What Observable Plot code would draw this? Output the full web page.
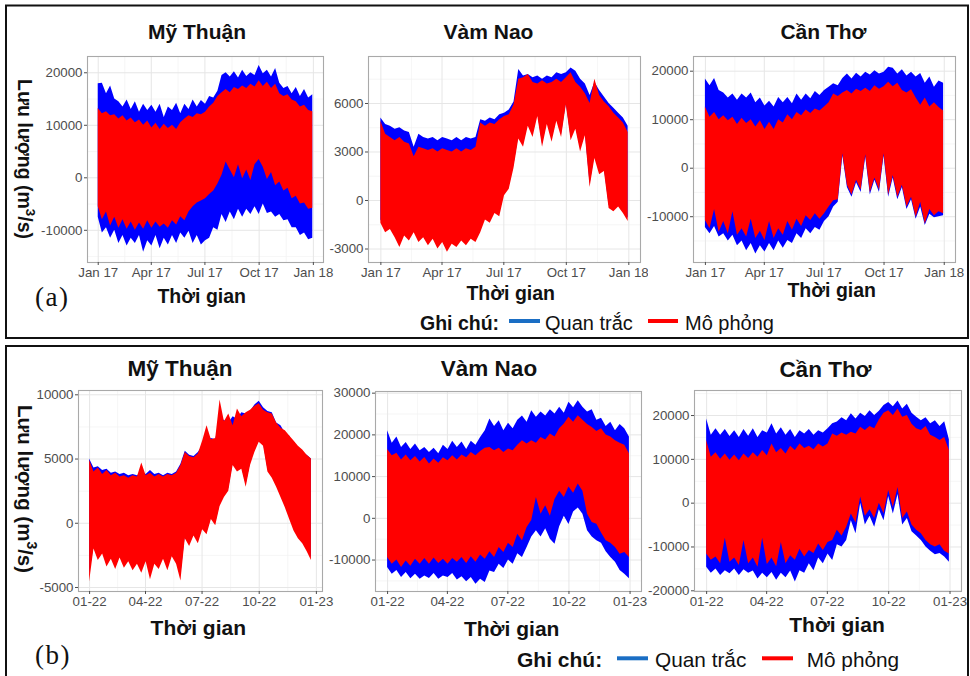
<!DOCTYPE html>
<html>
<head>
<meta charset="utf-8">
<script src="https://cdn.jsdelivr.net/npm/d3@7"></script>
<script src="https://cdn.jsdelivr.net/npm/@observablehq/plot@0.6"></script>
<style>
  body { margin: 0; background: #fff; }
  #page { position: relative; width: 970px; height: 676px; overflow: hidden; background: #fff;
          font-family: "Liberation Sans", Arial, sans-serif; }
  #page svg { position: absolute; }
</style>
</head>
<body>
<div id="page"></div>
<script>
// Weekly sampling dates of the discharge envelopes (m3/s)
const dates2017 = d3.utcDay.range(new Date(Date.UTC(2017, 0, 1)), new Date(Date.UTC(2018, 0, 1)), 7);
const dates2022 = d3.utcDay.range(new Date(Date.UTC(2022, 0, 1)), new Date(Date.UTC(2023, 0, 1)), 7);
const dates2022MT = dates2022.slice(0, 52);

// ---- (a) 2017 : Mỹ Thuận ----
const mt17ObsHi = [17900,18000,16000,17500,15000,14500,13500,14800,13000,14500,12500,14000,12800,13800,12500,14000,11500,13500,12800,14200,12200,14000,13000,14800,13500,14700,14000,15500,15200,16500,19500,20000,19200,20200,19000,20500,19300,20000,19500,21400,19800,20500,19200,20800,18000,17000,17400,16000,17200,15500,16800,15200,15800];
const mt17ObsLo = [-7500,-10500,-9500,-11500,-10000,-12500,-11000,-13000,-11500,-12500,-11000,-14200,-12000,-13000,-11000,-13500,-11500,-12800,-11000,-12500,-10500,-11500,-10200,-12500,-11000,-12800,-12000,-11500,-9500,-10000,-7000,-8500,-6500,-8000,-6000,-7500,-6000,-7000,-5500,-7000,-5000,-6800,-6500,-7500,-7000,-8200,-8000,-9500,-9500,-11000,-10500,-11800,-11500];
const mt17SimHi = [13200,12200,12600,11800,12000,11200,11800,10800,11400,10500,11000,10000,10800,9500,10400,9200,10200,9400,10000,9200,10500,11200,11800,11500,12200,12000,12500,13500,14200,15500,16200,16800,16200,17200,16800,17500,17000,17800,17300,18500,17400,18200,17000,17800,16000,15500,15800,14800,14500,13500,13800,12800,12600];
const mt17SimLo = [-5500,-8000,-6500,-9200,-7500,-9600,-8000,-9800,-8400,-10000,-8600,-9800,-8200,-9600,-8400,-9400,-8800,-9600,-8200,-9000,-7400,-8200,-6500,-5500,-4800,-4400,-4000,-3200,-2500,-1200,500,3000,1500,0,2500,-200,1500,-500,2500,3500,2000,-300,1000,-1500,-800,-2500,-2000,-4000,-3500,-5000,-4800,-6000,-5800];

// ---- (a) 2017 : Vàm Nao ----
const vn17ObsHi = [5100,4700,4600,4400,4500,4300,4200,3300,4100,3900,3800,3900,3700,3900,3800,3700,3900,3700,3900,3800,3900,5000,4900,5100,5000,5300,5400,5600,6100,8100,7700,7800,7600,7700,7500,7700,7600,7900,7800,7900,8200,8000,7500,7200,6500,7300,6800,6400,6000,5700,5400,5100,4600];
const vn17ObsLo = [-1200,-1800,-1600,-2100,-2600,-2000,-2300,-1800,-2400,-2100,-2600,-2200,-2700,-2400,-2900,-2500,-2700,-2300,-2600,-2200,-2400,-1800,-1000,-1200,-600,-800,500,900,2200,4000,3500,4800,4100,5400,3500,4900,3800,5100,4100,6000,3900,4600,3200,4200,1000,2800,1800,2000,-300,-500,-200,-600,-1100];
const vn17SimHi = [4900,4100,3900,3700,3900,3600,3500,2700,3300,3200,3100,3200,3000,3200,3100,3000,3200,3000,3200,3100,3300,4800,4600,4800,4700,5000,5200,5300,5900,7500,7600,7800,7300,7200,7400,7200,7300,7500,7300,7600,7900,7300,7000,6600,6000,7500,6500,6100,5800,5400,5100,4800,4200];
const vn17SimLo = [-1400,-2000,-1800,-2300,-2900,-2200,-2500,-2000,-2600,-2300,-2800,-2400,-3000,-2600,-3200,-2700,-2900,-2500,-2800,-2400,-2600,-2000,-1200,-1400,-800,-1000,300,700,2000,3800,3300,4600,3900,5200,3300,4700,3600,4900,3900,5900,3700,4400,3000,4000,800,2600,1600,1800,-500,-700,-400,-800,-1300];

// ---- (a) 2017 : Cần Thơ ----
const ct17ObsHi = [18400,17000,18500,16000,15500,14500,15300,14000,15300,14500,15500,13500,14500,12800,13800,12600,14600,13500,14600,13300,15300,14000,15300,14300,15800,15000,16000,16700,17400,17000,18500,19400,18400,19600,18800,19800,19200,20100,19400,19800,20800,20600,19400,20300,19000,19800,18800,19500,17500,18800,16700,18000,17500];
const ct17ObsLo = [-12200,-13500,-12000,-14200,-13500,-15000,-13800,-16000,-15000,-17000,-15500,-17700,-16000,-17300,-15500,-17000,-15000,-16500,-14900,-15500,-13500,-14500,-12500,-13500,-12200,-12800,-11000,-10000,-8000,-7000,2500,-4000,-6000,-3000,-5000,2300,-5500,-2500,-5000,2500,-6000,-2000,-6500,-4000,-8500,-6500,-10500,-8000,-11800,-9500,-10200,-10000,-9800];
const ct17SimHi = [12600,10500,11500,10000,10800,9800,10500,9000,10300,9200,10000,8500,9800,8000,9500,8000,10000,9300,11000,10000,11500,10800,12000,11300,12200,11800,12600,13500,15300,14800,15500,16000,15300,16300,15800,16500,15800,17000,16300,16800,17700,16800,17500,16000,15500,16200,14500,13000,14500,12600,13500,12500,11800];
const ct17SimLo = [-10800,-12500,-8500,-13200,-11000,-13500,-9000,-13800,-12500,-14200,-10500,-14500,-13000,-14900,-11000,-14500,-12500,-13800,-11000,-12800,-10500,-12000,-9800,-10800,-9400,-10500,-9400,-8000,-6700,-6500,3000,-3500,-5500,-2500,-4500,2800,-5000,-2000,-4500,3000,-5500,-1500,-6000,-3500,-8000,-6000,-10100,-7000,-11500,-8500,-9800,-9000,-9400];

// ---- (b) 2022 : Mỹ Thuận ----
const mt22ObsHi = [5000,4300,4400,4100,4200,3900,4000,3800,3900,3700,3800,3700,3900,3800,4100,3800,3900,3700,3900,3800,4000,4600,5600,5300,5200,5500,6000,6400,6600,6500,8200,8000,7800,8300,8100,8600,8500,8700,9200,9500,9000,8700,8600,7800,7600,7000,6800,6000,5700,5500,5300,5000];
const mt22ObsLo = [-4000,-1800,-2700,-2200,-3200,-2600,-3400,-2500,-3300,-2800,-3500,-3000,-3700,-2800,-4000,-3000,-3400,-2600,-3500,-2400,-3000,-4000,-1000,-1600,-800,-1400,-300,-700,500,0,1500,2200,2700,4700,4200,4400,3000,4700,5700,6500,6200,4200,3700,3000,2200,1400,500,-400,-1000,-1400,-2000,-2700];
const mt22SimHi = [4900,4000,4300,3800,4100,3700,3900,3600,3700,3500,3700,3600,4700,3700,3900,3600,3800,3600,3800,3700,3900,4500,5500,5200,5100,5400,6400,7600,6500,6600,9600,7900,8500,7600,8900,8300,8600,8800,9100,9300,8800,8600,8500,7800,7400,7200,6800,6400,6000,5700,5300,5000];
const mt22SimLo = [-4600,-2000,-2900,-2400,-3400,-2800,-3600,-2700,-3500,-3000,-3700,-3200,-3900,-3000,-4400,-3200,-3600,-2800,-3700,-2600,-3200,-4500,-1200,-1800,-1000,-1600,-500,-900,300,-200,1300,2000,2500,4500,4000,4200,2800,4500,5500,6300,6000,4000,3500,2800,2000,1200,300,-600,-1200,-1600,-2200,-2900];

// ---- (b) 2022 : Vàm Nao ----
const vn22ObsHi = [21000,18000,19500,17000,18200,16500,17800,16200,17000,15800,16800,15500,17500,16500,18500,17000,18300,16500,18500,17500,19400,21000,23800,22000,23400,21000,22800,21500,23500,24500,23000,25800,24200,25500,24500,26000,25000,26600,25200,27800,26500,28200,26600,25500,26000,23500,24000,22000,23000,21000,22500,21500,19500];
const vn22ObsLo = [-11800,-13400,-12500,-14200,-13000,-14500,-13400,-14600,-13800,-14400,-13200,-14600,-13800,-14200,-13200,-14800,-14000,-15200,-14200,-15800,-14600,-15400,-12600,-13000,-11000,-12000,-10000,-11000,-8500,-9400,-7000,-4500,-3000,-4500,-2500,-5000,-6200,-2000,500,-1500,1500,2500,1000,-3000,-4500,-5400,-6000,-8000,-9400,-10500,-12500,-13400,-14500];
const vn22SimHi = [16500,15000,15600,14000,15200,13800,14800,13500,14600,13000,14200,13200,14500,13800,15000,14000,15200,14500,15800,15000,16000,16800,17000,16200,16800,15800,16600,16200,17500,18600,17800,18600,18000,19400,18800,20200,19500,21500,22600,24200,23000,24600,23500,22500,21800,20800,21500,20000,19500,18600,18000,17500,15500];
const vn22SimLo = [-9400,-11000,-10000,-11800,-10200,-11500,-9800,-11000,-9600,-11000,-9500,-10800,-9800,-11000,-9600,-10500,-9400,-10800,-9200,-10500,-8800,-9800,-8000,-9400,-7000,-8200,-6000,-7000,-3800,-5400,-2200,-500,5000,1000,3000,500,4500,6500,5000,7500,6000,8200,6500,1000,-1000,-1400,-3500,-5400,-6000,-7000,-8600,-8200,-9400];

// ---- (b) 2022 : Cần Thơ ----
const ct22ObsHi = [19200,15500,17000,15500,16800,15200,16500,15000,16800,15300,17000,15000,16500,16000,18100,15800,17200,15500,16800,15000,16500,15800,16800,15500,16500,16000,17000,18100,18500,19500,18800,20400,19200,20500,19800,21100,20000,21000,22300,23000,22000,23300,21500,22600,20500,19600,18800,19500,18100,18800,17500,18600,14500];
const ct22ObsLo = [-14600,-16000,-15000,-16500,-15400,-16100,-15000,-16500,-15200,-16000,-15500,-17300,-16000,-17000,-15800,-17600,-16000,-17000,-15500,-18000,-15400,-16000,-13800,-15400,-12500,-13800,-11600,-13100,-9500,-10000,-8500,-4000,-7000,0,-5000,-3000,-5500,-1500,-4000,1500,-2500,2000,-5000,-3500,-6500,-7500,-8500,-10000,-11000,-11800,-11500,-12300,-13500];
const ct22SimHi = [14300,10500,11500,10000,11200,9800,11000,9700,11200,10200,11500,10500,12000,10800,13500,11500,12500,11200,13000,12000,13500,12500,13000,12200,13500,12800,13500,15800,15300,16000,15500,16200,15800,17300,16600,17500,17000,19000,20500,21100,20000,21500,19600,20000,18000,17000,16600,17500,15500,15000,14300,15000,12000];
const ct22SimLo = [-11600,-13000,-12300,-13800,-8000,-13500,-12500,-14200,-8500,-13800,-12500,-14600,-8000,-14000,-12500,-14500,-9000,-13800,-12000,-13000,-10500,-12300,-10800,-11500,-9300,-10800,-9000,-8500,-6200,-7500,-5500,-2500,-4500,1400,-3000,-1500,-3500,0,-2400,2900,-1000,3600,-3500,-2000,-5000,-6200,-7000,-8500,-9500,-10000,-9500,-11000,-11600];

// Station names, axis text, legend text
const stations = ["Mỹ Thuận", "Vàm Nao", "Cần Thơ"];
const xTitle = "Thời gian";
const legendTitle = "Ghi chú:";
const seriesNames = ["Quan trắc", "Mô phỏng"];
const OBS = "#0000ff", SIM = "#ff0000", OBS_KEY = "#1a6ec4";

const panels = [
  {dates: dates2017, obsHi: mt17ObsHi, obsLo: mt17ObsLo, simHi: mt17SimHi, simLo: mt17SimLo,
   frame: [87, 56, 323, 262], ml: 52, mr: 12, yDomain: [-16130, 23100],
   yTicks: [-10000, 0, 10000, 20000], yMinor: [-15000, -5000, 5000, 15000], fmt: "%b %y"},
  {dates: dates2017, obsHi: vn17ObsHi, obsLo: vn17ObsLo, simHi: vn17SimHi, simLo: vn17SimLo,
   frame: [368, 56, 640, 262], ml: 44, mr: 8, yDomain: [-3835, 8907],
   yTicks: [-3000, 0, 3000, 6000], yMinor: [-1500, 1500, 4500, 7500], fmt: "%b %y"},
  {dates: dates2017, obsHi: ct17ObsHi, obsLo: ct17ObsLo, simHi: ct17SimHi, simLo: ct17SimLo,
   frame: [693, 56, 955, 262], ml: 50, mr: 10, yDomain: [-19440, 23030],
   yTicks: [-10000, 0, 10000, 20000], yMinor: [-15000, -5000, 5000, 15000], fmt: "%b %y"},
  {dates: dates2022MT, obsHi: mt22ObsHi, obsLo: mt22ObsLo, simHi: mt22SimHi, simLo: mt22SimLo,
   frame: [78, 390, 322, 591], ml: 46, mr: 14, yDomain: [-5312, 10335],
   yTicks: [-5000, 0, 5000, 10000], yMinor: [-2500, 2500, 7500], fmt: "%m-%y"},
  {dates: dates2022, obsHi: vn22ObsHi, obsLo: vn22ObsLo, simHi: vn22SimHi, simLo: vn22SimLo,
   frame: [375, 391, 641, 591], ml: 50, mr: 8, yDomain: [-17540, 30400],
   yTicks: [-10000, 0, 10000, 20000, 30000], yMinor: [-15000, -5000, 5000, 15000, 25000], fmt: "%m-%y"},
  {dates: dates2022, obsHi: ct22ObsHi, obsLo: ct22ObsLo, simHi: ct22SimHi, simLo: ct22SimLo,
   frame: [694, 390, 961, 591], ml: 50, mr: 8, yDomain: [-20160, 25714],
   yTicks: [-20000, -10000, 0, 10000, 20000], yMinor: [-15000, -5000, 5000, 15000, 25000], fmt: "%m-%y"}
];

const page = document.getElementById("page");
const FONT = "'Liberation Sans', Arial, sans-serif";

function drawPanel(p) {
  const [x0, y0, x1, y1] = p.frame;
  const mt = 12, mb = 26;
  const width = (x1 - x0) + p.ml + p.mr;
  const height = (y1 - y0) + mt + mb;
  const rows = p.dates.map((d, i) => ({date: d, obsLo: p.obsLo[i], obsHi: p.obsHi[i], simLo: p.simLo[i], simHi: p.simHi[i]}));
  const [d0, d1] = d3.extent(p.dates);
  const pad = (d1 - d0) * 0.05;
  const xDomain = [new Date(+d0 - pad), new Date(+d1 + pad)];
  const xMajor = d3.utcMonth.every(3).range(xDomain[0], xDomain[1]);
  const xMinor = d3.pairs(xMajor).map(([a, b]) => new Date((+a + +b) / 2));

  const svg = Plot.plot({
    width, height,
    marginLeft: p.ml, marginRight: p.mr, marginTop: mt, marginBottom: mb,
    style: {background: "transparent", fontFamily: FONT, fontSize: "13.3px", color: "#4d4d4d"},
    x: {type: "utc", domain: xDomain},
    y: {domain: p.yDomain},
    marks: [
      Plot.frame({fill: "white"}),
      Plot.ruleX(xMinor, {stroke: "#f2f2f2", strokeWidth: 0.7}),
      Plot.ruleY(p.yMinor, {stroke: "#f2f2f2", strokeWidth: 0.7}),
      Plot.ruleX(xMajor, {stroke: "#e6e6e6", strokeWidth: 1}),
      Plot.ruleY(p.yTicks, {stroke: "#e6e6e6", strokeWidth: 1}),
      Plot.areaY(rows, {x: "date", y1: "obsLo", y2: "obsHi", fill: OBS}),
      Plot.areaY(rows, {x: "date", y1: "simLo", y2: "simHi", fill: SIM}),
      Plot.frame({stroke: "#a9a9a9", strokeWidth: 1.1}),
      Plot.axisX({ticks: xMajor, tickFormat: d3.utcFormat(p.fmt), tickSize: 3, tickPadding: 2,
                  stroke: "#4d4d4d", fill: "#4d4d4d", fontSize: 13.3, label: null}),
      Plot.axisY({ticks: p.yTicks, tickFormat: d => String(d), tickSize: 3, tickPadding: 2,
                  stroke: "#4d4d4d", fill: "#4d4d4d", fontSize: 13.3, label: null})
    ]
  });
  svg.style.position = "absolute";
  svg.style.left = (x0 - p.ml) + "px";
  svg.style.top = (y0 - mt) + "px";
  page.appendChild(svg);
}
panels.forEach(drawPanel);

// Text, borders and legends drawn on top
const ov = d3.select(page).append("svg")
  .attr("width", 970).attr("height", 676)
  .style("left", "0px").style("top", "0px")
  .style("pointer-events", "none")
  .attr("font-family", FONT);

ov.append("rect").attr("x", 6).attr("y", 5.5).attr("width", 962).attr("height", 332.5)
  .attr("fill", "none").attr("stroke", "#111").attr("stroke-width", 2);
ov.append("rect").attr("x", 6).attr("y", 346).attr("width", 962).attr("height", 340)
  .attr("fill", "none").attr("stroke", "#111").attr("stroke-width", 2);

function label(txt, x, y, size, opts = {}) {
  return ov.append("text").attr("x", x).attr("y", y)
    .attr("font-size", size).attr("font-weight", opts.weight || "bold")
    .attr("text-anchor", opts.anchor || "middle")
    .attr("fill", opts.fill || "#111")
    .attr("font-family", opts.family || FONT)
    .text(txt);
}

// Station titles
[[197, 38.7], [488.5, 38.7], [823.5, 39.3]].forEach(([x, y], i) => label(stations[i], x, y, 21));
[[180, 375.5], [489, 375.5], [825.5, 376.5]].forEach(([x, y], i) => label(stations[i], x, y, 22.5));

// Time axis titles
[[201.7, 303], [510.7, 299.5], [831.7, 296.5]].forEach(([x, y]) => label(xTitle, x, y, 19.5));
[[198.3, 635], [511.7, 636], [837, 632]].forEach(([x, y]) => label(xTitle, x, y, 21));

// Discharge axis titles (rotated, reading downwards)
function yTitle(cx, cy, size) {
  const t = ov.append("text")
    .attr("transform", `translate(${cx},${cy}) rotate(90)`)
    .attr("text-anchor", "middle").attr("font-weight", "bold")
    .attr("font-size", size).attr("fill", "#111");
  t.append("tspan").text("Lưu lượng (m");
  t.append("tspan").attr("dy", -0.42 * size).attr("font-size", size * 0.68).text("3");
  t.append("tspan").attr("dy", 0.42 * size).text("/s)");
}
yTitle(18, 159, 19.5);
yTitle(18, 489, 20.5);

// Panel group letters
label("(a)", 35, 305.5, 27, {weight: "normal", anchor: "start", family: "'Liberation Serif', 'Times New Roman', serif"})
  .attr("letter-spacing", 1.5);
label("(b)", 35, 663.8, 27, {weight: "normal", anchor: "start", family: "'Liberation Serif', 'Times New Roman', serif"})
  .attr("letter-spacing", 1.5);

// Legends
function legend(y, base, sizeB, sizeR, xs) {
  label(legendTitle, xs[0], base, sizeB, {anchor: "start"});
  ov.append("line").attr("x1", xs[1]).attr("x2", xs[2]).attr("y1", y).attr("y2", y)
    .attr("stroke", OBS_KEY).attr("stroke-width", 4);
  label(seriesNames[0], xs[3], base, sizeR, {anchor: "start", weight: "normal"});
  ov.append("line").attr("x1", xs[4]).attr("x2", xs[5]).attr("y1", y).attr("y2", y)
    .attr("stroke", SIM).attr("stroke-width", 4);
  label(seriesNames[1], xs[6], base, sizeR, {anchor: "start", weight: "normal"});
}
legend(321, 330, 19.5, 20, [420, 509, 540, 545, 648, 678, 685]);
legend(658.3, 666.5, 21, 20.8, [517, 617, 648, 655, 762, 793, 806.7]);
</script>
</body>
</html>
